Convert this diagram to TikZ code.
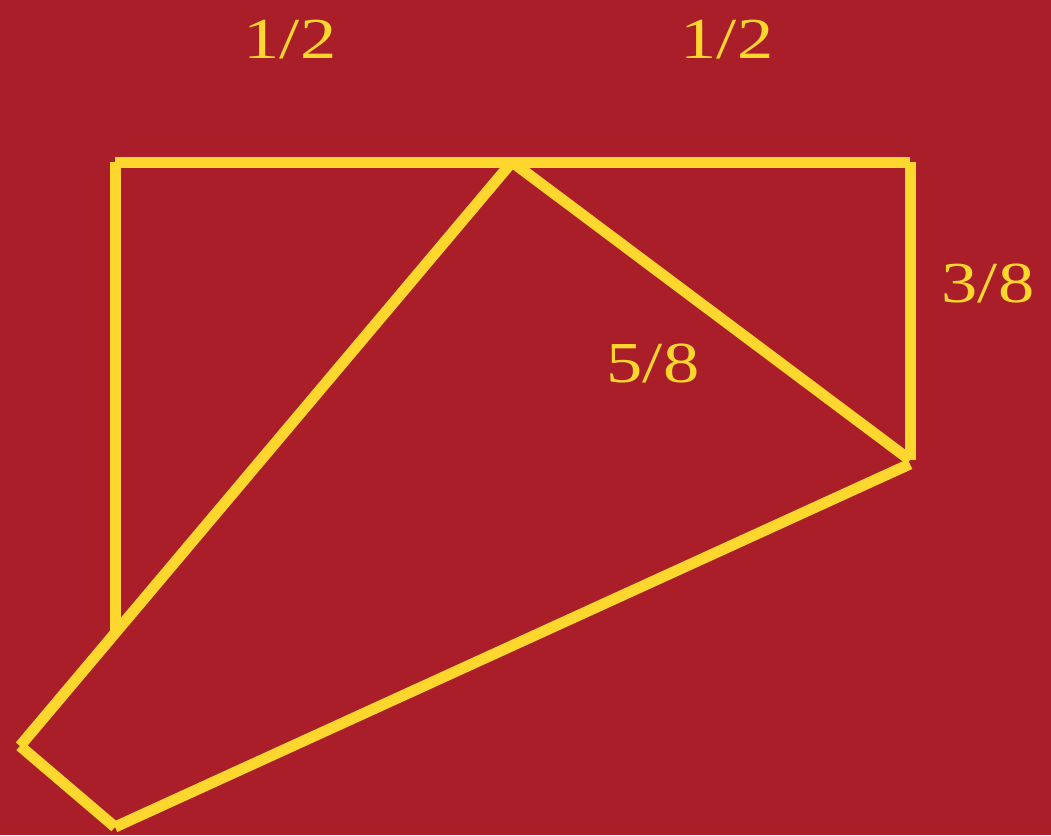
\documentclass[tikz,border=0pt]{standalone}
\usepackage{fontspec}
\setmainfont{Liberation Serif}
\definecolor{bgred}{RGB}{170,30,41}
\definecolor{ylw}{RGB}{253,214,46}
\newcommand{\wide}[1]{\scalebox{1.25}[1]{#1}}
\tikzset{
  edge/.style={draw=ylw, line width=11pt, line cap=butt},
  lbl/.style={text=ylw, inner sep=0pt, anchor=base, font=\fontsize{58}{60}\selectfont}
}
\begin{document}
\begin{tikzpicture}[x=1pt,y=-1pt]
\fill[bgred] (0,0) rectangle (1051,835);
\useasboundingbox (0,0) rectangle (1051,835);
\coordinate (TL) at (115,162);
\coordinate (TM) at (512,162);
\coordinate (TR) at (910,162);
\coordinate (RB) at (910,460);
\coordinate (RB2) at (910,464);
\coordinate (LB) at (115,632);
\coordinate (FL) at (20,746);
\coordinate (FB) at (115,827);
\draw[edge] (TL) -- (TR);
\draw[edge] (TL) -- (LB);
\draw[edge] (TR) -- (RB);
\draw[edge] (TM) -- (FL);
\draw[edge] (TM) -- (RB);
\draw[edge] (RB2) -- (FB);
\draw[edge] (FL) -- (FB);
\node[lbl] (a) at (290,58) {\wide{1/2}};
\node[lbl] (b) at (727,58) {\wide{1/2}};
\node[lbl] (c) at (988,302) {\wide{3/8}};
\node[lbl] (d) at (653,382) {\wide{5/8}};
\end{tikzpicture}
\end{document}
